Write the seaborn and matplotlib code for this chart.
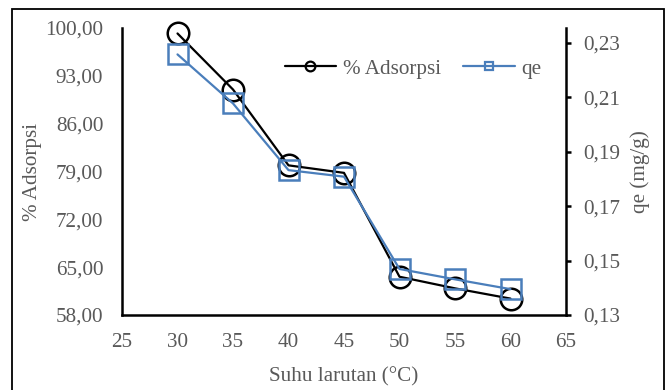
import matplotlib
matplotlib.use("Agg")
import matplotlib.pyplot as plt
from matplotlib.lines import Line2D
from matplotlib.patches import Rectangle
from matplotlib.ticker import FuncFormatter, MultipleLocator
import seaborn as sns
import pandas as pd

# Adsorption vs. solution temperature
suhu = [30, 35, 40, 45, 50, 55, 60]
persen_adsorpsi = [99.2, 91.0, 79.9, 78.8, 63.6, 61.9, 60.4]
qe = [0.2257, 0.2077, 0.1832, 0.1808, 0.1469, 0.1431, 0.1395]

df = pd.DataFrame({"suhu": suhu, "adsorpsi": persen_adsorpsi, "qe": qe})

sns.set_theme(style="white")
plt.rcParams["font.family"] = ["Liberation Serif", "DejaVu Serif"]

FS = 15.2
GREY = "#595959"
BLACK = "#000000"
BLUE = "#4A7EBB"

fig = plt.figure(figsize=(6.69, 3.90), dpi=100)
ax = fig.add_axes([122 / 669, 1 - 315 / 390, 444 / 669, 287 / 390])
ax2 = ax.twinx()

sns.lineplot(data=df, x="suhu", y="adsorpsi", ax=ax, color=BLACK, linewidth=1.6,
             marker="o", markersize=15.5, markerfacecolor="none",
             markeredgecolor=BLACK, markeredgewidth=1.8, legend=False,
             clip_on=False)
sns.lineplot(data=df, x="suhu", y="qe", ax=ax2, color=BLUE, linewidth=1.6,
             marker="s", markersize=15, markerfacecolor="none",
             markeredgecolor=BLUE, markeredgewidth=1.8, legend=False,
             clip_on=False)

ax.set_xlim(25, 65)
ax.xaxis.set_major_locator(MultipleLocator(5))
ax.set_ylim(58, 100)
ax.set_yticks([58, 65, 72, 79, 86, 93, 100])
ax.yaxis.set_major_formatter(FuncFormatter(lambda v, p: f"{v:.2f}".replace(".", ",")))

ax2.set_ylim(0.13, 0.2354)
ax2.set_yticks([0.13, 0.15, 0.17, 0.19, 0.21, 0.23])
ax2.yaxis.set_major_formatter(FuncFormatter(lambda v, p: f"{v:.2f}".replace(".", ",")))

for a in (ax, ax2):
    a.set_facecolor("none")
    a.grid(False)
    for s in a.spines.values():
        s.set_visible(False)

ax.spines["left"].set_visible(True)
ax.spines["bottom"].set_visible(True)
ax2.spines["right"].set_visible(True)
for s in (ax.spines["left"], ax.spines["bottom"], ax2.spines["right"]):
    s.set_color(BLACK)
    s.set_linewidth(1.8)

ax.tick_params(axis="y", left=False, length=0, pad=13.5, labelsize=FS, labelcolor=GREY)
ax.tick_params(axis="x", bottom=False, length=0, pad=13, labelsize=FS, labelcolor=GREY)
ax2.tick_params(axis="y", right=True, direction="out", length=3.5, width=1.8,
                color=BLACK, pad=9, labelsize=FS, labelcolor=GREY)

ax.set_xlabel("Suhu larutan (°C)", fontsize=FS, color=GREY)
ax.xaxis.set_label_coords(0.5, -0.18)
ax.set_ylabel("% Adsorpsi", fontsize=FS, color=GREY)
ax.yaxis.set_label_coords(-0.18, 0.5)
ax2.set_ylabel("qe (mg/g)", fontsize=FS, color=GREY, rotation=90)
ax2.yaxis.set_label_coords(1.145, 0.5)

handles = [
    Line2D([], [], color=BLACK, linewidth=1.6, marker="o", markersize=7,
           markerfacecolor="none", markeredgecolor=BLACK, markeredgewidth=1.6),
    Line2D([], [], color=BLUE, linewidth=1.6, marker="s", markersize=6,
           markerfacecolor="none", markeredgecolor=BLUE, markeredgewidth=1.6),
]
leg = ax2.legend(handles, ["% Adsorpsi", "qe"], ncol=2, loc="center",
                 bbox_to_anchor=(0.655, 0.858), frameon=False, fontsize=FS,
                 handlelength=2.45, handletextpad=0.3, columnspacing=1.05)
for t in leg.get_texts():
    t.set_color(GREY)

# Frame around the whole chart area
fig.patches.append(Rectangle((12 / 669, -0.02), 652 / 669, 1.02 - 9 / 390,
                             transform=fig.transFigure, fill=False,
                             edgecolor=BLACK, linewidth=1.3, zorder=10))

fig.savefig("out.png", dpi=100)
